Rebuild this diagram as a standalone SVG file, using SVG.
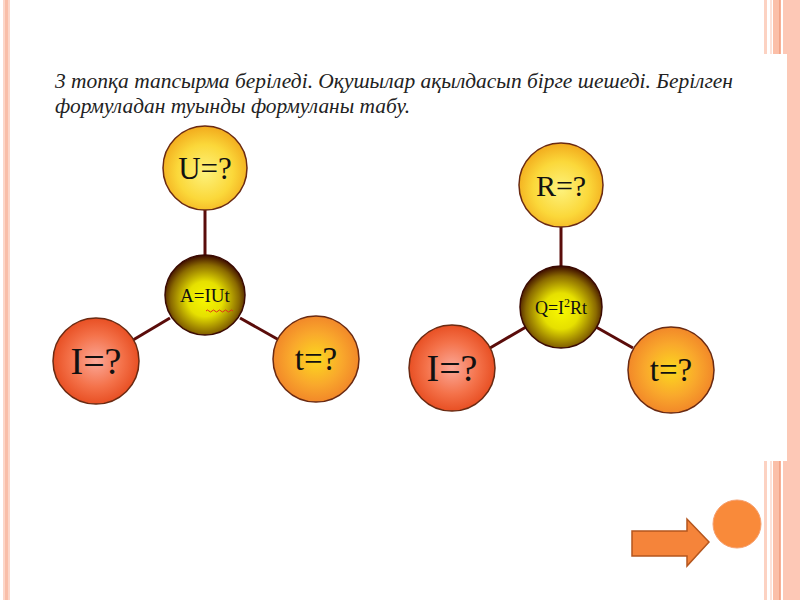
<svg xmlns="http://www.w3.org/2000/svg" width="800" height="600" viewBox="0 0 800 600">
  <defs>
    <radialGradient id="gYellow" cx="50%" cy="55%" r="55%">
      <stop offset="0" stop-color="#fdf27c"/>
      <stop offset="0.6" stop-color="#fbd83a"/>
      <stop offset="1" stop-color="#f2aa1c"/>
    </radialGradient>
    <radialGradient id="gOrange" cx="50%" cy="50%" r="55%">
      <stop offset="0" stop-color="#fcd81e"/>
      <stop offset="0.55" stop-color="#f9a82c"/>
      <stop offset="1" stop-color="#f08028"/>
    </radialGradient>
    <radialGradient id="gRed" cx="50%" cy="50%" r="55%">
      <stop offset="0" stop-color="#fba898"/>
      <stop offset="0.55" stop-color="#f4724a"/>
      <stop offset="1" stop-color="#e5471a"/>
    </radialGradient>
    <radialGradient id="gCenter" cx="50%" cy="55%" r="55%">
      <stop offset="0" stop-color="#f8f800"/>
      <stop offset="0.4" stop-color="#e6e000"/>
      <stop offset="0.78" stop-color="#8a6a00"/>
      <stop offset="1" stop-color="#3a0800"/>
    </radialGradient>
    <style>
      .outer { stroke: #6a2a12; stroke-width: 1.5; }
      .center { stroke: #3a0a02; stroke-width: 1.5; }
      .lbl { font-family: "Liberation Serif", "Times New Roman", serif; fill: #111; text-anchor: middle; }
      .con line { stroke: #5a0c0a; stroke-width: 3; }
      .title { font-family: "Liberation Serif", "Times New Roman", serif; font-style: italic; font-size: 22px; fill: #222; }
    </style>
  </defs>

  <rect width="800" height="600" fill="#ffffff"/>

  <!-- slide border decoration -->
  <g id="border">
    <rect x="3" y="0" width="7" height="600" fill="#fcd6c8"/>
    <rect x="5" y="0" width="3" height="600" fill="#f9bea8"/>
    <rect x="764" y="0" width="3" height="600" fill="#fcd2c2"/>
    <rect x="770" y="0" width="2" height="600" fill="#fde2d8"/>
    <rect x="773" y="0" width="8" height="600" fill="#fbbfa8"/>
    <rect x="779" y="0" width="1.5" height="600" fill="#f2a386"/>
    <rect x="783" y="0" width="17" height="600" fill="#fdc8b6"/>
    <rect x="60" y="54" width="727" height="407" fill="#ffffff"/>
  </g>

  <g id="title">
    <text class="title" x="55" y="88" textLength="678" lengthAdjust="spacingAndGlyphs">3 топқа тапсырма беріледі. Оқушылар ақылдасып бірге шешеді. Берілген</text>
    <text class="title" x="55" y="113" textLength="355" lengthAdjust="spacingAndGlyphs">формуладан туынды формуланы табу.</text>
  </g>

  <g id="connectors" class="con">
    <line x1="205" y1="210" x2="205" y2="256"/>
    <line x1="170" y1="318" x2="133" y2="340"/>
    <line x1="240" y1="318" x2="279" y2="340"/>
    <line x1="561" y1="227" x2="561" y2="267"/>
    <line x1="526" y1="327" x2="490" y2="348"/>
    <line x1="596" y1="327" x2="633" y2="348"/>
  </g>

  <!-- left diagram -->
  <g id="node-U">
    <circle class="outer" cx="205" cy="168" r="42" fill="url(#gYellow)"/>
    <text class="lbl" x="205" y="179" font-size="31">U=?</text>
  </g>
  <g id="node-AIUt">
    <circle class="center" cx="205" cy="295" r="40" fill="url(#gCenter)"/>
    <text class="lbl" x="205" y="302" font-size="19">A=IUt</text>
    <path d="M206 311 q1.5 -2 3 0 t3 0 t3 0 t3 0 t3 0 t3 0 t3 0 t3 0 t3 0" fill="none" stroke="#e0301a" stroke-width="1"/>
  </g>
  <g id="node-I1">
    <circle class="outer" cx="96" cy="361" r="43" fill="url(#gRed)"/>
    <text class="lbl" x="96" y="374" font-size="38">I=?</text>
  </g>
  <g id="node-t1">
    <circle class="outer" cx="316" cy="359" r="43" fill="url(#gOrange)"/>
    <text class="lbl" x="316" y="370" font-size="33">t=?</text>
  </g>

  <!-- right diagram -->
  <g id="node-R">
    <circle class="outer" cx="561" cy="185" r="42" fill="url(#gYellow)"/>
    <text class="lbl" x="561" y="196" font-size="30">R=?</text>
  </g>
  <g id="node-QI2Rt">
    <circle class="center" cx="561" cy="307" r="41" fill="url(#gCenter)"/>
    <text class="lbl" x="561" y="314" font-size="18">Q=I<tspan font-size="12" dy="-7">2</tspan><tspan dy="7">Rt</tspan></text>
  </g>
  <g id="node-I2">
    <circle class="outer" cx="452" cy="368" r="43" fill="url(#gRed)"/>
    <text class="lbl" x="452" y="381" font-size="38">I=?</text>
  </g>
  <g id="node-t2">
    <circle class="outer" cx="671" cy="370" r="43" fill="url(#gOrange)"/>
    <text class="lbl" x="671" y="381" font-size="33">t=?</text>
  </g>

  <!-- navigation -->
  <g id="nav-arrow">
    <path d="M632 531 H687 V519 L709 542 L687 566 V556 H632 Z" fill="#f5843a" stroke="#b4561e" stroke-width="1.5" stroke-linejoin="miter"/>
  </g>
  <g id="nav-dot">
    <circle cx="737" cy="524" r="24" fill="#f98a3a" stroke="#f6a070" stroke-width="1"/>
  </g>
</svg>
